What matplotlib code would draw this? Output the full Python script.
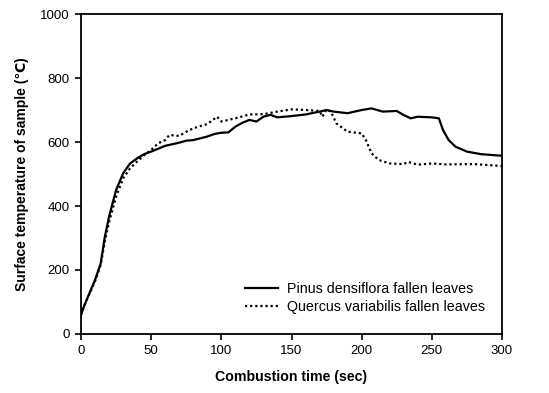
import matplotlib
matplotlib.use("Agg")
import matplotlib.pyplot as plt

plt.rcParams['font.family'] = ['Liberation Sans', 'DejaVu Sans']

# Pinus densiflora fallen leaves (solid)
pinus_t = [0, 2, 5, 10, 14, 17, 20, 25, 30, 35, 40, 45, 50, 60, 70, 75, 80, 90, 95, 100, 105,
           110, 115, 120, 125, 130, 135, 140, 150, 160, 170, 175, 180, 190, 200, 207, 215, 225,
           230, 235, 240, 250, 255, 258, 262, 267, 275, 285, 300]
pinus_v = [60, 85, 117, 169, 220, 304, 367, 450, 502, 533, 549, 562, 570, 588, 598, 604, 606, 617,
           625, 629, 630, 648, 660, 669, 664, 679, 685, 677, 681, 686, 695, 700, 695, 690, 700, 705,
           695, 697, 684, 674, 679, 677, 674, 637, 606, 585, 570, 562, 557]

# Quercus variabilis fallen leaves (dotted)
quercus_t = [0, 2, 5, 10, 14, 17, 20, 25, 30, 35, 40, 45, 50, 55, 60, 63, 70, 75, 80, 90, 97, 100,
             110, 120, 130, 140, 150, 160, 170, 172, 175, 178, 182, 190, 200, 203, 207, 212, 220,
             230, 233, 240, 250, 260, 280, 300]
quercus_v = [60, 85, 115, 165, 215, 290, 350, 429, 486, 518, 539, 559, 575, 596, 606, 622, 619, 632,
             643, 656, 679, 664, 674, 686, 687, 695, 702, 700, 697, 679, 702, 695, 658, 632, 627, 606,
             565, 544, 533, 531, 538, 529, 533, 530, 531, 525]

x_ticks = [0, 50, 100, 150, 200, 250, 300]
y_ticks = [0, 200, 400, 600, 800, 1000]

fig = plt.figure(figsize=(5.49, 3.93), dpi=100)
ax = fig.add_axes([81/549, 1 - 334/393, (502-81)/549, (334-14)/393])

ax.plot(pinus_t, pinus_v, color='black', lw=1.6, label='Pinus densiflora fallen leaves')
ax.plot(quercus_t, quercus_v, color='black', lw=1.6, linestyle=(0, (1, 1.3)),
        label='Quercus variabilis fallen leaves')

ax.set_xlim(0, 300)
ax.set_ylim(0, 1000)
ax.set_xticks(x_ticks)
ax.set_yticks(y_ticks)
ax.tick_params(direction='out', length=4, width=1.2, labelsize=9.5, pad=4)
for s in ax.spines.values():
    s.set_linewidth(1.3)

ax.set_xlabel('Combustion time (sec)', fontsize=10.2, fontweight='bold', labelpad=9)
ax.set_ylabel('Surface temperature of sample (\u2103)', fontsize=10, fontweight='bold', labelpad=8)

ax.legend(loc='lower right', frameon=False, fontsize=10.3, handlelength=2.3,
          bbox_to_anchor=(0.973, 0.045), borderaxespad=0, labelspacing=0.25, handletextpad=0.6)

fig.savefig('out.png', dpi=100)
